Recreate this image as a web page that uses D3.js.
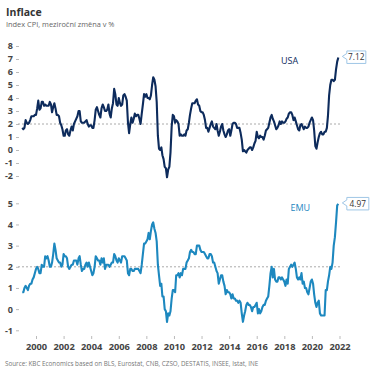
<!DOCTYPE html>
<html><head><meta charset="utf-8">
<script src="https://cdn.jsdelivr.net/npm/d3@7"></script>
<style>
body{margin:0;background:#fff;}
svg{display:block;font-family:"Open Sans","Noto Sans",sans-serif;}
</style></head>
<body>
<svg id="c" width="376" height="376"></svg>
<script>
const title = "Inflace";
const subtitle = "Index CPI, meziroční změna v %";
const source = "Source: KBC Economics based on BLS, Eurostat, CNB, CZSO, DESTATIS, INSEE, Istat, INE";
const startYear = 1999;
const usa = [
1.7,1.6,1.7,2.3,2.1,2.0,2.1,2.3,2.6,2.6,2.6,2.7,
2.7,3.2,3.8,3.1,3.2,3.7,3.7,3.4,3.5,3.4,3.4,3.4,
3.7,3.5,2.9,3.3,3.6,3.2,2.7,2.7,2.6,2.1,1.9,1.6,
1.1,1.1,1.5,1.6,1.2,1.1,1.5,1.8,1.5,2.0,2.2,2.4,
2.6,3.0,3.0,2.2,2.1,2.1,2.1,2.2,2.3,2.0,1.8,1.9,
1.9,1.7,1.7,2.3,3.1,3.3,3.0,2.7,2.5,3.2,3.5,3.3,
3.0,3.0,3.1,3.5,2.8,2.5,3.2,3.6,4.7,4.3,3.5,3.4,
4.0,3.6,3.4,3.5,4.2,4.3,4.1,3.8,2.1,1.3,2.0,2.5,
2.1,2.4,2.8,2.6,2.7,2.7,2.4,2.0,2.8,3.5,4.3,4.1,
4.3,4.0,4.0,3.9,4.2,5.0,5.6,5.4,4.9,3.7,1.1,0.1,
0.0,0.2,-0.4,-0.7,-1.3,-1.4,-2.1,-1.5,-1.3,-0.2,1.8,2.7,
2.6,2.1,2.3,2.2,2.0,1.1,1.2,1.1,1.1,1.2,1.1,1.5,
1.6,2.1,2.7,3.2,3.6,3.6,3.6,3.8,3.9,3.5,3.4,3.0,
2.9,2.9,2.7,2.3,1.7,1.7,1.4,1.7,2.0,2.2,1.8,1.7,
1.6,2.0,1.5,1.1,1.4,1.8,2.0,1.5,1.2,1.0,1.2,1.5,
1.6,1.1,1.5,2.0,2.1,2.1,2.0,1.7,1.7,1.7,1.3,0.8,
-0.1,0.0,-0.1,-0.2,0.0,0.1,0.2,0.2,0.0,0.2,0.5,0.7,
1.4,1.0,0.9,1.1,1.0,1.0,0.8,1.1,1.5,1.6,1.7,2.1,
2.5,2.7,2.4,2.2,1.9,1.6,1.7,1.9,2.2,2.0,2.2,2.1,
2.1,2.2,2.4,2.5,2.8,2.9,2.9,2.7,2.3,2.5,2.2,1.9,
1.6,1.5,1.9,2.0,1.8,1.6,1.8,1.7,1.7,1.8,2.1,2.3,
2.5,2.3,1.5,0.3,0.1,0.6,1.0,1.3,1.4,1.2,1.2,1.4,
1.4,1.7,2.6,4.2,5.0,5.4,5.4,5.3,5.4,6.2,6.8,7.12];
const emu = [
0.8,0.8,1.0,1.1,1.0,0.9,1.1,1.2,1.2,1.4,1.5,1.7,
1.9,2.0,1.9,1.7,1.7,2.1,2.0,2.0,2.5,2.4,2.5,2.3,
2.0,2.0,2.2,2.6,3.1,2.8,2.4,2.3,2.2,2.2,2.0,2.1,
2.6,2.5,2.5,2.4,2.0,1.9,2.0,2.1,2.1,2.3,2.3,2.3,
2.1,2.4,2.5,2.1,1.8,1.9,1.9,2.1,2.2,2.0,2.2,2.0,
1.8,1.6,1.7,2.0,2.5,2.4,2.3,2.3,2.1,2.4,2.2,2.4,
1.9,2.1,2.1,2.1,2.0,2.1,2.2,2.2,2.6,2.5,2.3,2.2,
2.4,2.3,2.2,2.5,2.5,2.5,2.4,2.3,1.7,1.6,1.9,1.9,
1.8,1.8,1.9,1.9,1.9,1.9,1.8,1.7,2.1,2.6,3.1,3.1,
3.2,3.3,3.6,3.3,3.7,4.0,4.1,3.8,3.6,3.2,2.1,1.6,
1.1,1.2,0.6,0.6,0.0,-0.1,-0.6,-0.2,-0.3,-0.1,0.5,0.9,
0.9,0.8,1.6,1.6,1.7,1.5,1.7,1.6,1.9,1.9,1.9,2.2,
2.3,2.4,2.7,2.8,2.7,2.7,2.6,2.6,3.0,3.0,3.0,2.8,
2.7,2.7,2.7,2.6,2.5,2.4,2.4,2.6,2.6,2.5,2.2,2.2,
2.0,1.8,1.7,1.2,1.4,1.6,1.6,1.3,1.1,0.7,0.9,0.8,
0.8,0.7,0.5,0.7,0.5,0.5,0.4,0.4,0.3,0.4,0.3,-0.2,
-0.6,-0.3,-0.1,0.2,0.3,0.2,0.2,0.1,-0.1,0.1,0.1,0.2,
0.3,-0.2,0.0,-0.2,-0.1,0.1,0.2,0.2,0.4,0.5,0.6,1.1,
1.7,2.0,1.5,1.9,1.4,1.3,1.3,1.5,1.5,1.4,1.5,1.4,
1.3,1.1,1.4,1.2,1.9,2.0,2.1,2.0,2.1,2.2,1.9,1.5,
1.4,1.5,1.4,1.7,1.2,1.3,1.0,1.0,0.8,0.7,1.0,1.3,
1.4,1.2,0.7,0.3,0.1,0.3,0.4,-0.2,-0.3,-0.3,-0.3,-0.3,
0.9,0.9,1.3,1.6,2.0,1.9,2.2,3.0,3.4,4.1,4.9,4.97];
const yearTicks = [2000,2002,2004,2006,2008,2010,2012,2014,2016,2018,2020,2022];
const usaTicks = [-2,-1,0,1,2,3,4,5,6,7,8];
const emuTicks = [-1,0,1,2,3,4,5];
const target = 2;

const svg = d3.select("#c");
const toDate = i => new Date(startYear, i, 1);
const x = d3.scaleTime().domain([new Date(2000,0,1), new Date(2022,0,1)]).range([36, 339.5]);

svg.append("text").attr("x",6).attr("y",15.5).attr("font-size",10.5).attr("font-weight",700).attr("fill","#333").text(title);
svg.append("text").attr("x",6).attr("y",27).attr("font-size",7.4).attr("fill","#666").text(subtitle);
svg.append("text").attr("x",5).attr("y",366).attr("font-size",6.3).attr("fill","#777").text(source);

function panel(data, ticks, yr, color, label, lx, ly, boxW){
  const y = d3.scaleLinear().domain([ticks[0], ticks[ticks.length-1]]).range(yr);
  const g = svg.append("g");
  const ax = g.append("g").attr("transform","translate(19,0)")
    .call(d3.axisLeft(y).tickValues(ticks).tickSize(3).tickPadding(3).tickFormat(d => String(d)));
  ax.select(".domain").remove();
  ax.selectAll("line").attr("stroke","#bbb");
  ax.selectAll("text").attr("font-size",9).attr("font-weight",700).attr("fill","#444").attr("font-family","'Open Sans',sans-serif");
  g.append("line").attr("x1",18).attr("x2",342).attr("y1",y(target)).attr("y2",y(target))
    .attr("stroke","#aaa").attr("stroke-width",1).attr("stroke-dasharray","2,2");
  const line = d3.line().x((d,i)=>x(toDate(i))).y(d=>y(d));
  g.append("path").datum(data).attr("d",line).attr("fill","none").attr("stroke",color)
    .attr("stroke-width",2.1).attr("stroke-linejoin","round");
  g.append("text").attr("x",lx).attr("y",ly).attr("font-size",9).attr("fill",color).text(label);
  const last = data.length-1, ex = x(toDate(last)), ey = y(data[last]);
  const bx = ex+8.5, by = ey-6.5, bh = 12.5;
  const p = `M${ex+4},${ey-1} L${bx},${ey-4} L${bx},${by} L${bx+boxW},${by} L${bx+boxW},${by+bh} L${bx},${by+bh} L${bx},${ey+2} Z`;
  g.append("path").attr("d",p).attr("fill","#fff").attr("stroke","#9fc6e6").attr("stroke-width",1);
  g.append("text").attr("x",bx+boxW/2).attr("y",ey+3).attr("text-anchor","middle").attr("font-size",8.3)
    .attr("fill","#333").text(d3.format(".2f")(data[last]));
  return y;
}
panel(usa, usaTicks, [176,46], "#0d2b5c", "USA", 281, 63.5, 19);
panel(emu, emuTicks, [330.3,203.3], "#1d88bf", "EMU", 290.5, 211, 22);

const xa = svg.append("g").attr("transform","translate(0,336)")
  .call(d3.axisBottom(x).tickValues(yearTicks.map(yv=>new Date(yv,0,1))).tickSize(3).tickPadding(4).tickFormat(d3.timeFormat("%Y")));
xa.select(".domain").remove();
xa.selectAll("line").attr("stroke","#bbb");
xa.selectAll("text").attr("font-size",9.3).attr("font-weight",700).attr("fill","#444").attr("font-family","'Open Sans',sans-serif");
</script>
</body></html>
